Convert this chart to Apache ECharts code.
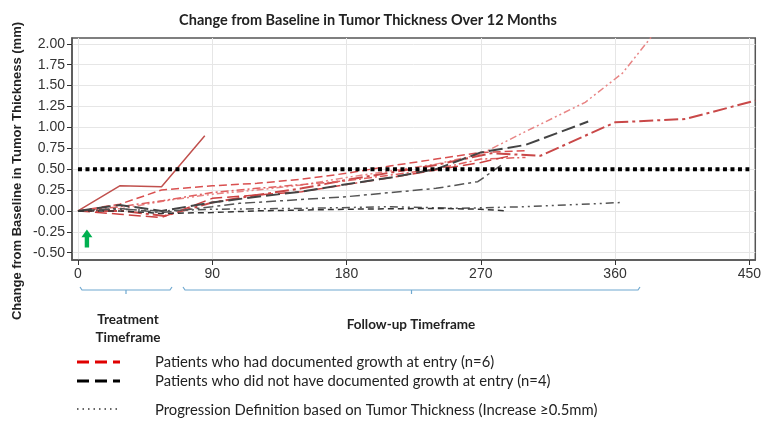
<!DOCTYPE html>
<html>
<head>
<meta charset="utf-8">
<script src="https://cdn.jsdelivr.net/npm/echarts@6/dist/echarts.min.js"></script>
<style>
  html, body { margin: 0; padding: 0; background: #fff; }
  #chart { width: 764px; height: 423px; }
</style>
</head>
<body>
<div id="chart"></div>
<script>
// tick values
var xTicks = [0, 90, 180, 270, 360, 450];
var yTicks = [-0.5, -0.25, 0, 0.25, 0.5, 0.75, 1, 1.25, 1.5, 1.75, 2];

// patients with documented growth at entry (day, change in mm)
var red1 = [[0, 0], [28, 0.30], [56, 0.29], [85, 0.90]];
var red2 = [[0, 0], [30, 0.03], [58, 0.12], [90, 0.20], [120, 0.25], [150, 0.31], [180, 0.40], [210, 0.48], [240, 0.56], [270, 0.68], [300, 0.95], [340, 1.30], [365, 1.65], [386, 2.12]];
var red3 = [[0, 0], [30, 0.0], [58, -0.06], [90, 0.10], [120, 0.19], [150, 0.27], [180, 0.37], [210, 0.46], [240, 0.55], [277, 0.69], [310, 0.66], [360, 1.06], [407, 1.10], [454, 1.32]];
var red4 = [[0, 0], [28, 0.08], [56, 0.25], [90, 0.30], [120, 0.33], [150, 0.38], [180, 0.45], [210, 0.54], [240, 0.62], [270, 0.70], [300, 0.72]];
var red5 = [[0, 0], [28, 0.05], [56, 0.12], [90, 0.22], [120, 0.27], [180, 0.36], [240, 0.50], [270, 0.62], [300, 0.64]];
var red6 = [[0, 0], [28, -0.04], [56, -0.08], [90, 0.15], [150, 0.23], [210, 0.40], [270, 0.58], [290, 0.66]];

// patients without documented growth at entry
var black1 = [[0, 0], [28, 0.03], [56, -0.02], [90, 0.05], [108, 0.09], [180, 0.17], [240, 0.27], [268, 0.35], [284, 0.55]];
var black2 = [[0, 0], [28, 0.02], [56, 0.0], [90, 0.02], [150, 0.03], [210, 0.05], [255, 0.03], [300, 0.05], [364, 0.10]];
var black3 = [[0, 0], [28, 0.07], [56, 0.0], [90, 0.10], [120, 0.17], [150, 0.23], [180, 0.32], [210, 0.40], [240, 0.50], [270, 0.70], [300, 0.79], [342, 1.07]];
var black4 = [[0, 0], [28, 0.0], [56, -0.03], [90, -0.02], [120, 0.0], [180, 0.02], [240, 0.03], [270, 0.02], [288, 0.0]];

// progression threshold
var thresholdDays = [0, 450];
var thresholdValue = 0.5;

// start of treatment marker
var arrowAt = [6, -0.33];

var chart = echarts.init(document.getElementById('chart'));

function line(name, data, color, dash, width) {
    return {
        name: name,
        type: 'line',
        data: data,
        symbol: 'none',
        animation: false,
        lineStyle: { color: color, width: width || 1.5, type: dash }
    };
}

var series = [
    line('r1', red1, '#c0504d', 'solid'),
    line('r2', red2, '#e88585', [7, 3, 2, 3, 2, 3]),
    line('r3', red3, '#c94848', [14, 4, 3, 4], 2),
    line('r4', red4, '#d95050', [8, 4]),
    line('r5', red5, '#e06060', [8, 3, 2, 3]),
    line('r6', red6, '#cc4040', [12, 5]),
    line('b1', black1, '#555555', [10, 4, 3, 4]),
    line('b2', black2, '#555555', [8, 4, 2, 4, 2, 4]),
    line('b3', black3, '#444444', [14, 5], 2),
    line('b4', black4, '#333333', [6, 4]),
    {
        name: 'threshold',
        type: 'line',
        symbol: 'none',
        animation: false,
        data: thresholdDays.map(function (d) { return [d, thresholdValue]; }),
        lineStyle: { color: '#000', width: 4, type: [4, 3.5] },
        markPoint: {
            silent: true,
            animation: false,
            data: [{
                coord: arrowAt,
                symbol: 'path://M5,0 L10,6 L7,6 L7,14 L3,14 L3,6 L0,6 Z',
                symbolSize: [11, 18],
                itemStyle: { color: '#00b050' },
                label: { show: false }
            }]
        }
    }
];

function bracket(x1, x2, y) {
    var mid = (x1 + x2) / 2;
    return [
        { type: 'polyline', shape: { points: [[x1, y - 3], [x1 + 2, y], [x2 - 2, y], [x2, y - 3]] },
          style: { stroke: '#6fa8d0', lineWidth: 1.2, fill: null } },
        { type: 'line', shape: { x1: mid, y1: y, x2: mid, y2: y + 4 },
          style: { stroke: '#6fa8d0', lineWidth: 1.2 } }
    ];
}

var textFont = 'Lato, "Open Sans", sans-serif';

var graphics = [
    { type: 'text', x: 17, y: 171, rotation: Math.PI / 2,
      style: { text: 'Change from Baseline in Tumor Thickness (mm)', font: 'bold 13px "Liberation Sans", Arial, sans-serif',
               fill: '#222', textAlign: 'center', textVerticalAlign: 'middle' } },
    { type: 'text', x: 128, y: 320,
      style: { text: 'Treatment', font: 'bold 13.5px ' + textFont, fill: '#222', textAlign: 'center', textVerticalAlign: 'middle' } },
    { type: 'text', x: 128, y: 338,
      style: { text: 'Timeframe', font: 'bold 13.5px ' + textFont, fill: '#222', textAlign: 'center', textVerticalAlign: 'middle' } },
    { type: 'text', x: 411, y: 325,
      style: { text: 'Follow-up Timeframe', font: 'bold 13.5px ' + textFont, fill: '#222', textAlign: 'center', textVerticalAlign: 'middle' } },
    // legend samples
    { type: 'line', shape: { x1: 77, y1: 362, x2: 120, y2: 362 },
      style: { stroke: '#e00000', lineWidth: 3, lineDash: [12, 6] } },
    { type: 'line', shape: { x1: 77, y1: 381, x2: 120, y2: 381 },
      style: { stroke: '#000', lineWidth: 3, lineDash: [12, 6] } },
    { type: 'line', shape: { x1: 77, y1: 409, x2: 120, y2: 409 },
      style: { stroke: '#666', lineWidth: 2, lineDash: [1.5, 4] } },
    { type: 'text', x: 155, y: 362,
      style: { text: 'Patients who had documented growth at entry (n=6)', font: '14.8px ' + textFont, fill: '#222', textVerticalAlign: 'middle' } },
    { type: 'text', x: 155, y: 381,
      style: { text: 'Patients who did not have documented growth at entry (n=4)', font: '14.8px ' + textFont, fill: '#222', textVerticalAlign: 'middle' } },
    { type: 'text', x: 155, y: 410,
      style: { text: 'Progression Definition based on Tumor Thickness (Increase \u22650.5mm)', font: '14.8px ' + textFont, fill: '#222', textVerticalAlign: 'middle' } }
].concat(bracket(80, 172, 290), bracket(183, 640, 290));

var option = {
    animation: false,
    title: {
        text: 'Change from Baseline in Tumor Thickness Over 12 Months',
        left: 363,
        top: 8,
        textAlign: 'center',
        textStyle: { fontFamily: 'Lato', fontWeight: 'bold', fontSize: 14.5, color: '#222' }
    },
    grid: {
        left: 72, right: 6, top: 38, bottom: 163,
        show: true, borderColor: '#555', borderWidth: 1.5, backgroundColor: '#fff'
    },
    xAxis: {
        type: 'value',
        min: -4,
        max: 454,
        axisLine: { onZero: false, lineStyle: { color: '#555', width: 1.5 } },
        axisTick: { show: true, length: 5, customValues: xTicks, lineStyle: { color: '#333' } },
        axisLabel: { customValues: xTicks, fontSize: 14, color: '#333', fontFamily: '"Liberation Sans", Arial', margin: 7 },
        splitLine: { show: true, lineStyle: { color: '#e6e6e6' } }
    },
    yAxis: {
        type: 'value',
        min: -0.588,
        max: 2.07,
        axisLine: { show: true, onZero: false, lineStyle: { color: '#555', width: 1.5 } },
        axisTick: { show: true, length: 5, customValues: yTicks, lineStyle: { color: '#333' } },
        axisLabel: {
            customValues: yTicks, fontSize: 14, color: '#333', fontFamily: '"Liberation Sans", Arial', margin: 7,
            formatter: function (v) { return v.toFixed(2); }
        },
        splitLine: { show: true, lineStyle: { color: '#e6e6e6' } }
    },
    series: series,
    graphic: graphics
};

chart.setOption(option);
</script>
</body>
</html>
